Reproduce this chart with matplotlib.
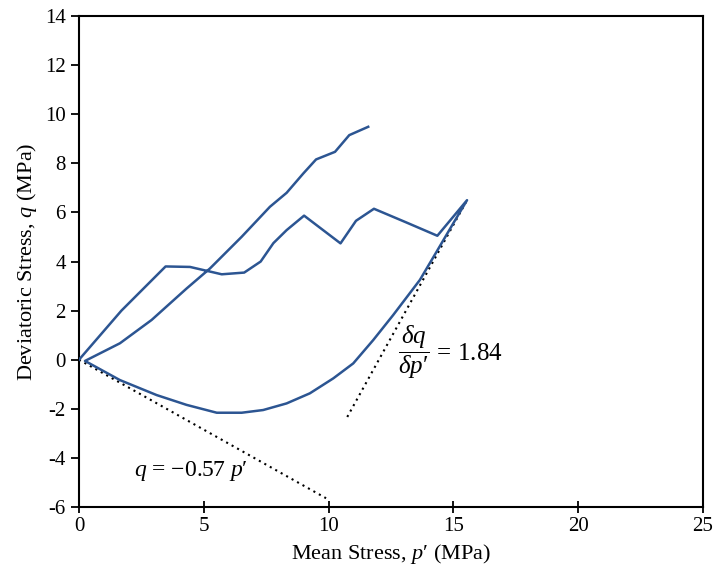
import matplotlib
matplotlib.use("Agg")
import matplotlib.pyplot as plt
import numpy as np

# stress path (one continuous loading path)
p_path = [0.0, 1.7, 3.47, 4.45, 5.72, 6.62, 7.28, 7.79, 8.32, 9.02, 10.48, 11.10, 11.82,
          13.1, 14.36, 15.55,
          15.0, 14.33, 13.66, 12.59, 11.79, 10.99, 10.19, 9.25, 8.32, 7.38, 6.52, 5.52,
          4.31, 3.11, 1.64, 0.24,
          1.64, 2.91, 3.38, 4.31, 5.25, 6.52, 7.65, 8.32, 8.99, 9.50, 10.26, 10.83, 11.59]
q_path = [0.0, 2.0, 3.8, 3.78, 3.48, 3.55, 4.0, 4.75, 5.28, 5.87, 4.74, 5.66, 6.15,
          5.6, 5.05, 6.5,
          5.56, 4.40, 3.25, 1.82, 0.80, -0.15, -0.76, -1.37, -1.78, -2.05, -2.16, -2.16,
          -1.84, -1.44, -0.83, -0.05,
          0.67, 1.62, 2.05, 2.9, 3.72, 5.01, 6.23, 6.8, 7.59, 8.16, 8.47, 9.15, 9.49]

# dotted reference lines
slope_low = -0.57
p_low = [0.0, 9.9]
slope_tan = 1.84
p_tan = [10.75, 15.55]
q_tan_end = 6.5

plt.rcParams["font.family"] = ["Liberation Serif", "DejaVu Serif"]
plt.rcParams["mathtext.fontset"] = "custom"
plt.rcParams["mathtext.rm"] = "Liberation Serif"
plt.rcParams["mathtext.it"] = "Liberation Serif:italic"
plt.rcParams["mathtext.bf"] = "Liberation Serif:bold"
plt.rcParams["axes.unicode_minus"] = False

fig, ax = plt.subplots(figsize=(7.15, 5.75), dpi=100)
fig.subplots_adjust(left=0.1105, right=0.983, bottom=0.1183, top=0.972)

ax.plot(p_path, q_path, color="#2C5592", lw=1.8, zorder=3)

ax.plot(p_low, [slope_low * p for p in p_low], color="black", ls=(0, (1, 2)), lw=1.5)
ax.plot(p_tan, [q_tan_end + slope_tan * (p - p_tan[1]) for p in p_tan],
        color="black", ls=(0, (1, 2)), lw=1.5)

ax.text(2.2, -4.55, "$q$ = \u22120.57 $p$\u2032", fontsize=17, va="center")
ax.text(12.8, 0.3, "$\\dfrac{\\delta q}{\\delta p\u2032}$ = 1.84", fontsize=18, va="center")

ax.set_xlim(0, 25)
ax.set_ylim(-6, 14)
ax.set_xticks(np.arange(0, 26, 5))
ax.set_yticks(np.arange(-6, 15, 2))
ax.tick_params(labelsize=15, direction="out", length=6, width=1.3, colors="black")
ax.tick_params(axis="x", direction="inout", length=8)
for s in ax.spines.values():
    s.set_linewidth(1.5)

ax.set_xlabel("Mean Stress, $p$\u2032 (MPa)", fontsize=16)
ax.set_ylabel("Deviatoric Stress, $q$ (MPa)", fontsize=16)

fig.savefig("out.png", dpi=100)
